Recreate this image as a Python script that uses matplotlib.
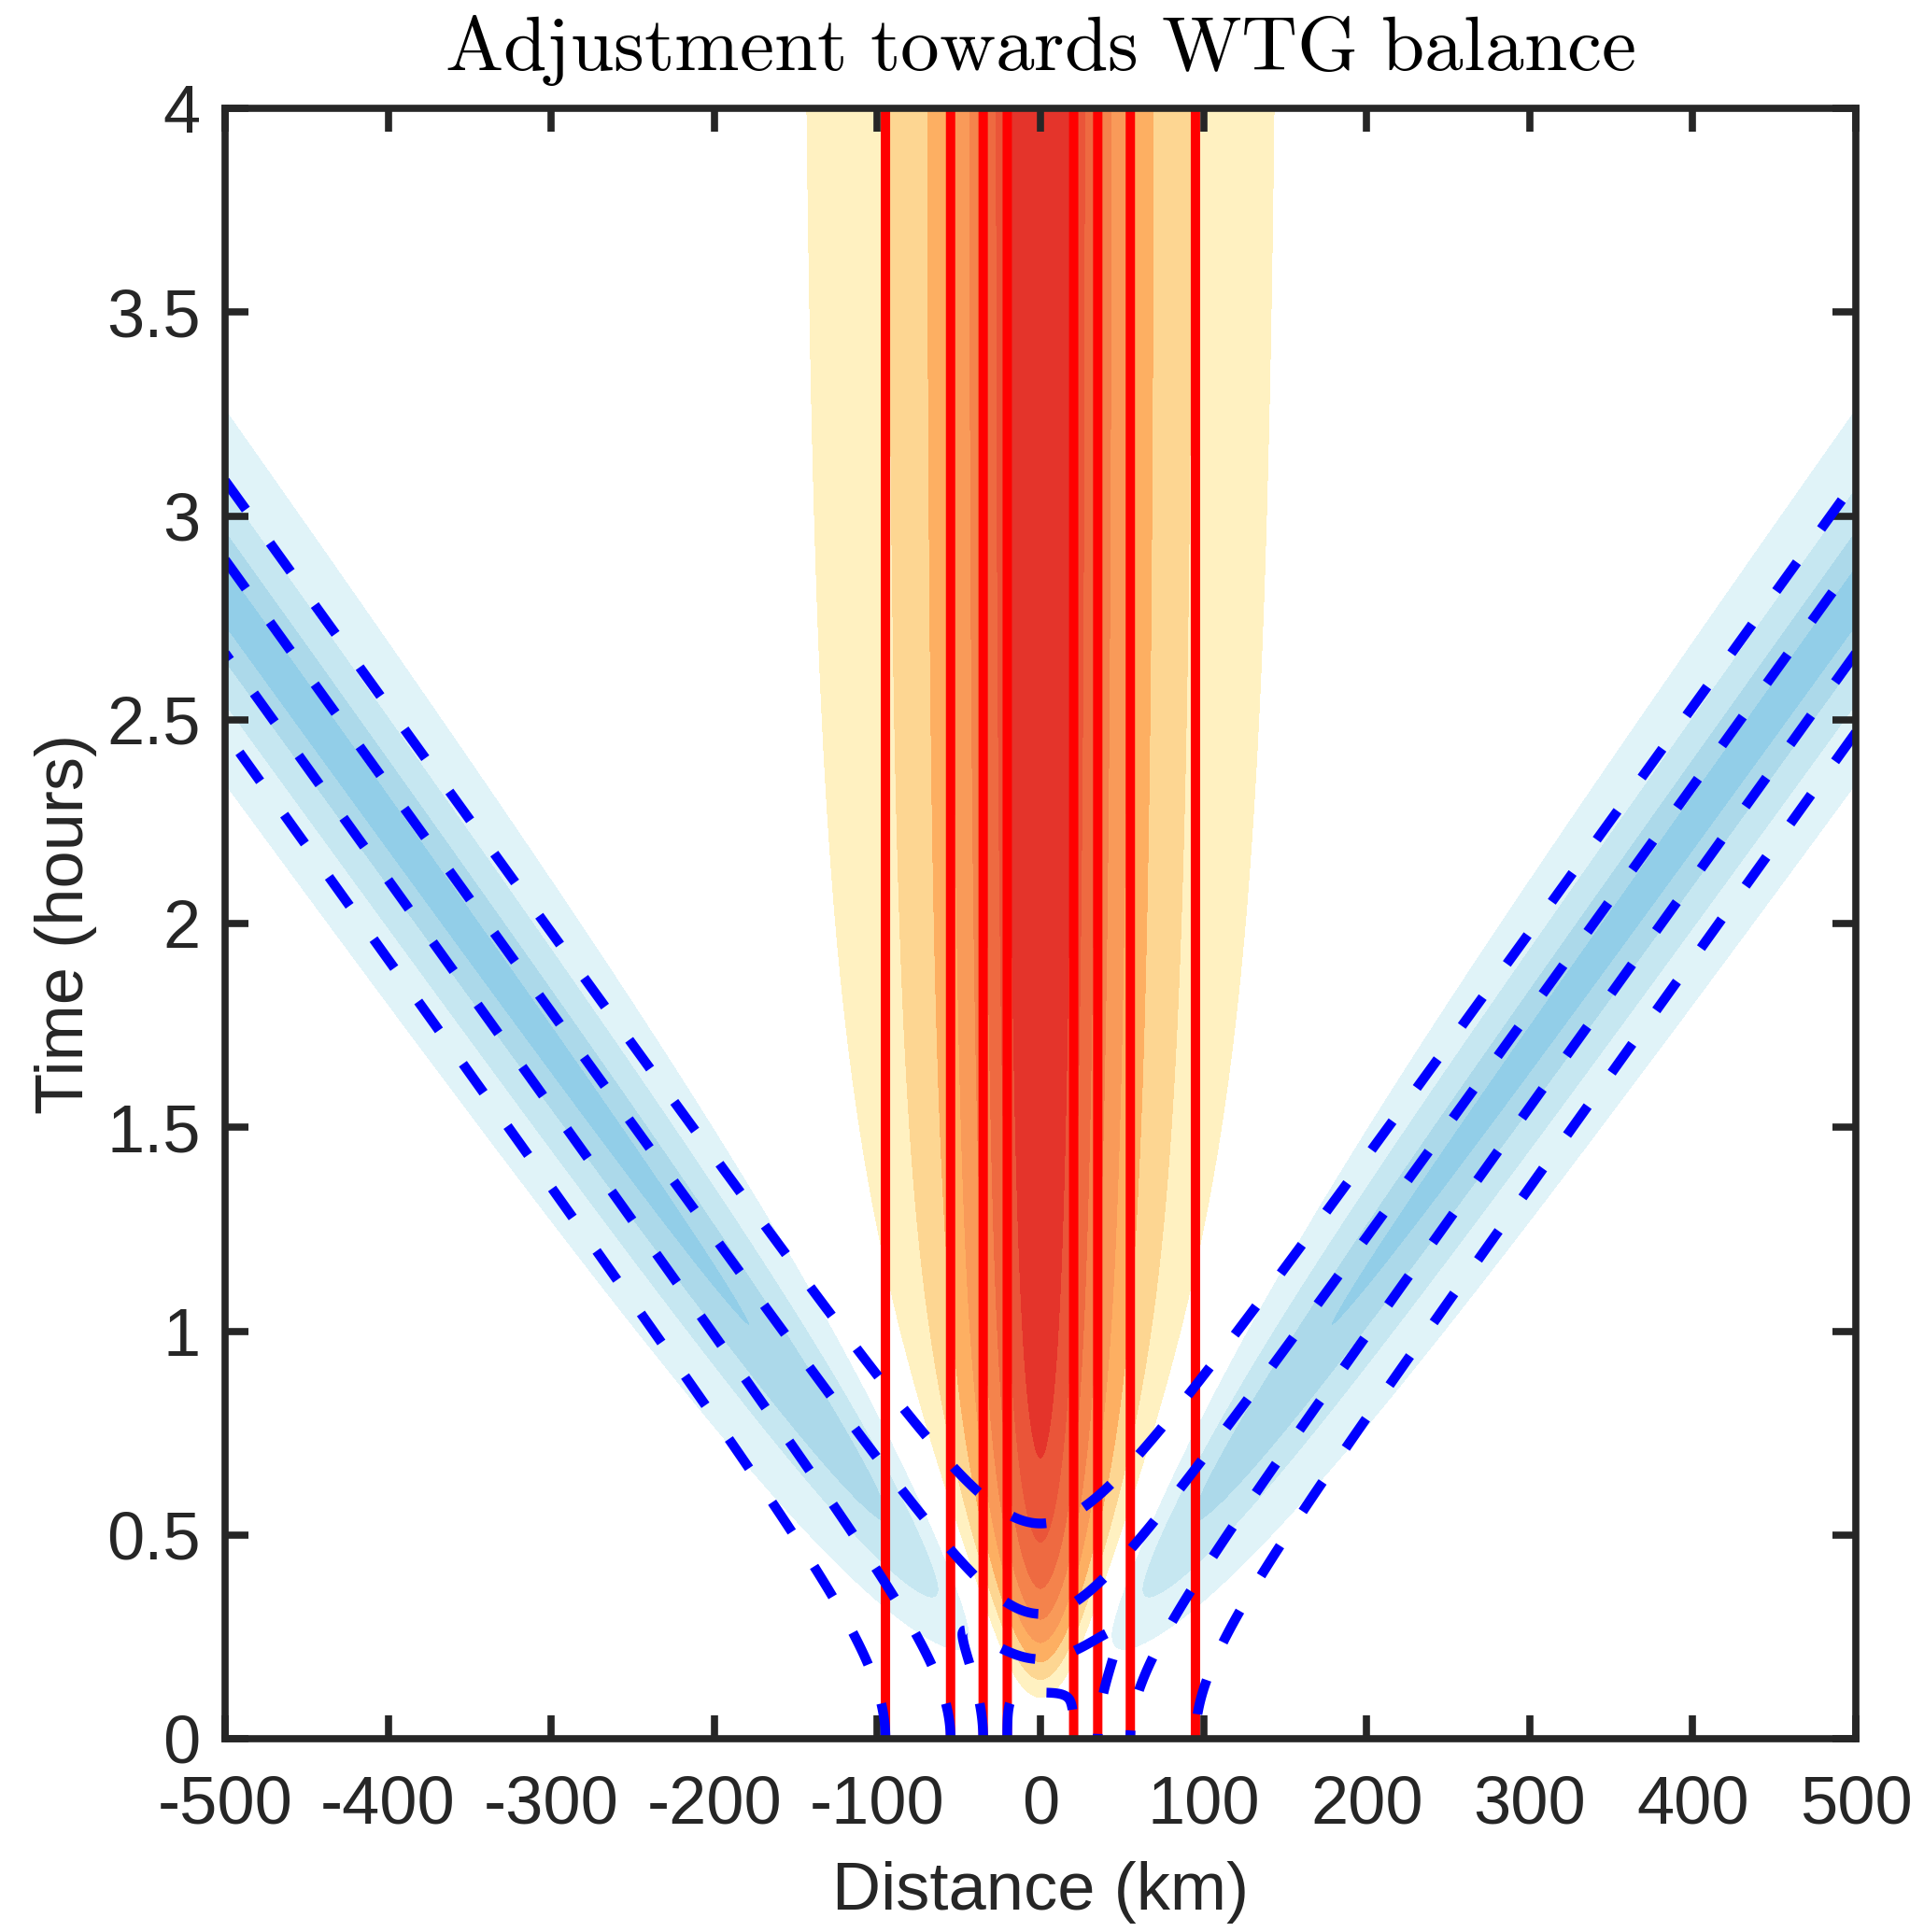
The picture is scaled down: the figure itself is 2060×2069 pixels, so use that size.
import numpy as np
import matplotlib
matplotlib.use("Agg")
import matplotlib.pyplot as plt

# --- chart parameters ---
heat_halfwidth = 44.0      # km, where the heating profile drops to one half
heat_shape = 1.8           # exponent of the heating profile tail
wave_speed = 180.0         # km per hour, slope of the gravity-wave fronts
wave_delay = 0.025         # hours before the fronts leave
slow_fraction = 0.08       # part of the heating that adjusts slowly in place
slow_time = 1.8            # hours, time scale of that slow part

x_km = np.linspace(-500, 500, 1001)
t_hr = np.linspace(0, 4, 801)

fill_levels = [-1.0, -0.4, -0.3, -0.2, -0.1, 0.1, 0.2, 0.3, 0.4, 0.5, 0.6, 0.7, 0.8, 1.1]
fill_colors = ['#92cee8', '#acd9ea', '#c6e7f1', '#e0f3f8', '#ffffff',
               '#fff1c1', '#fdd692', '#fdaf62', '#f99a59', '#f4834c',
               '#ee6a41', '#ea5539', '#e4342b']
heat_levels = [0.2, 0.4, 0.6, 0.8]
wave_levels = [-0.8, -0.6, -0.4, -0.2]

xticks = [-500, -400, -300, -200, -100, 0, 100, 200, 300, 400, 500]
xticklabels = ['-500', '-400', '-300', '-200', '-100', '0', '100', '200', '300', '400', '500']
yticks = [0, 0.5, 1, 1.5, 2, 2.5, 3, 3.5, 4]
yticklabels = ['0', '0.5', '1', '1.5', '2', '2.5', '3', '3.5', '4']


def heating(x):
    return 1.0 / (1.0 + (np.abs(x) / heat_halfwidth) ** heat_shape)


X, T = np.meshgrid(x_km, t_hr)
Q = heating(X)

# idealised fronts (dashed contours)
waves = -0.5 * (heating(X - wave_speed * T) + heating(X + wave_speed * T))

# shaded field: fronts plus a slowly adjusting part near the heating
Te = np.clip(T - wave_delay, 0, None)
fronts = 0.5 * (1 - slow_fraction) * (heating(X - wave_speed * Te) + heating(X + wave_speed * Te))
slow = slow_fraction * Q * np.exp(-(T / slow_time) ** 2)
w = Q - fronts - slow

plt.rcParams['lines.scale_dashes'] = False
plt.rcParams['mathtext.fontset'] = 'cm'
dark = '#262626'

fig = plt.figure(figsize=(20.6, 20.69), dpi=100)
ax = fig.add_axes([241 / 2060, 1 - 1862 / 2069, 1746 / 2060, 1746 / 2069])

ax.contourf(X, T, w, levels=fill_levels, colors=fill_colors, zorder=1)
ax.contour(X, T, Q, levels=heat_levels, colors='#ff0000', linewidths=7.2, zorder=2)
ax.contour(X, T, waves, levels=wave_levels, colors='#0000ff', linewidths=7.5,
           linestyles=[(0, (27.4, 31.7))], zorder=3)

ax.set_xlim(-500, 500)
ax.set_ylim(0, 4)
ax.set_xticks(xticks)
ax.set_xticklabels(xticklabels)
ax.set_yticks(yticks)
ax.set_yticklabels(yticklabels)

tick_font = dict(family='Liberation Sans', size=52, color=dark)
for lab in ax.get_xticklabels() + ax.get_yticklabels():
    lab.set_fontfamily('Liberation Sans')
    lab.set_fontsize(52)
    lab.set_color(dark)
ax.tick_params(direction='in', length=18, width=5.5, color=dark,
               top=True, right=True)
ax.tick_params(axis='x', pad=28)
ax.tick_params(axis='y', pad=19)
for sp in ax.spines.values():
    sp.set_linewidth(5.5)
    sp.set_color(dark)
    sp.set_zorder(5)

ax.set_xlabel('Distance (km)', fontdict=tick_font, labelpad=18)
ax.set_ylabel('Time (hours)', fontdict=tick_font, labelpad=7)

fig.text(0.5 * (241 + 1987) / 2060, 1 - 75 / 2069,
         r'$\mathrm{Adjustment\ towards\ WTG\ balance}$',
         ha='center', va='baseline', fontsize=60, color='black')

fig.savefig('out.png', dpi=100)
